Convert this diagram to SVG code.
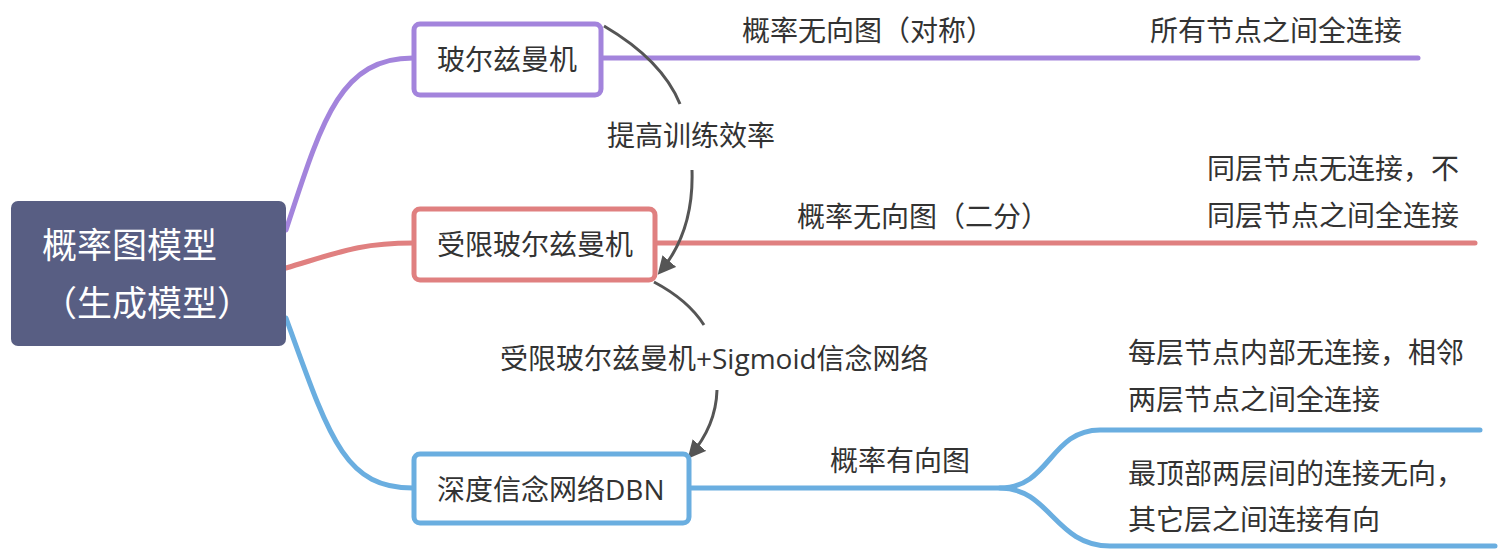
<svg xmlns="http://www.w3.org/2000/svg" width="1502" height="552" viewBox="0 0 1502 552">
<defs>
<style>
text{font-family:"Open Sans","Noto Sans CJK SC",sans-serif;fill:#333;font-size:28px}
.root{fill:#fff;font-size:35px}
.b{fill:none;stroke-width:5;stroke-linecap:round}
.p{stroke:#a384dc}.r{stroke:#e08080}.u{stroke:#6aaee0}
.box{fill:#fff;stroke-width:5}
.g{fill:none;stroke:#555;stroke-width:3}
</style>
<marker id="ah" viewBox="0 0 10 10" refX="8" refY="5" markerWidth="6" markerHeight="6" orient="auto" markerUnits="strokeWidth"><path d="M0,0 L10,5 L0,10 z" fill="#555"/></marker>
</defs>
<rect width="1502" height="552" fill="#fff"/>
<g id="connectors">
<path class="b p" d="M286 230 C322 120 340 58 413 58"/>
<path class="b r" d="M286 268 C340 252 360 243 413 243"/>
<path class="b u" d="M286 318 C330 440 345 488 413 488"/>
<path class="b p" d="M602 58 L1418 58"/>
<path class="b r" d="M656 243 L1475 243"/>
<path class="b u" d="M690 488 L1000 488 C1050 488 1050 430 1100 430 L1480 430"/>
<path class="b u" d="M1000 488 C1050 488 1055 546 1110 546 L1495 546"/>
<path class="g" d="M604 26 Q662 60 680 104"/>
<path class="g" d="M692 170 Q694 232 660 272" marker-end="url(#ah)"/>
<path class="g" d="M654 282 Q688 300 704 325"/>
<path class="g" d="M717 390 Q716 426 690 456" marker-end="url(#ah)"/>
</g>
<g id="root">
<rect x="11" y="201" width="275" height="145" rx="7" fill="#585e83"/>
<text class="root" x="42" y="258">概率图模型</text>
<text class="root" x="42" y="316">（生成模型）</text>
</g>
<g id="n1">
<rect class="box p" x="414" y="24" width="187" height="71" rx="6"/>
<text x="437" y="70">玻尔兹曼机</text>
</g>
<g id="n2">
<rect class="box r" x="414" y="209" width="241" height="71" rx="6"/>
<text x="437" y="255">受限玻尔兹曼机</text>
</g>
<g id="n3">
<rect class="box u" x="414" y="454" width="275" height="69" rx="6"/>
<text x="437" y="500">深度信念网络DBN</text>
</g>
<g id="labels">
<text x="607" y="146">提高训练效率</text>
<text x="500" y="369">受限玻尔兹曼机+Sigmoid信念网络</text>
<text x="742" y="41">概率无向图（对称）</text>
<text x="1150" y="41">所有节点之间全连接</text>
<text x="797" y="227">概率无向图（二分）</text>
<text x="1207" y="179">同层节点无连接，不</text>
<text x="1207" y="226">同层节点之间全连接</text>
<text x="830" y="471">概率有向图</text>
<text x="1128" y="363">每层节点内部无连接，相邻</text>
<text x="1128" y="410">两层节点之间全连接</text>
<text x="1128" y="484">最顶部两层间的连接无向，</text>
<text x="1128" y="530">其它层之间连接有向</text>
</g>
</svg>
